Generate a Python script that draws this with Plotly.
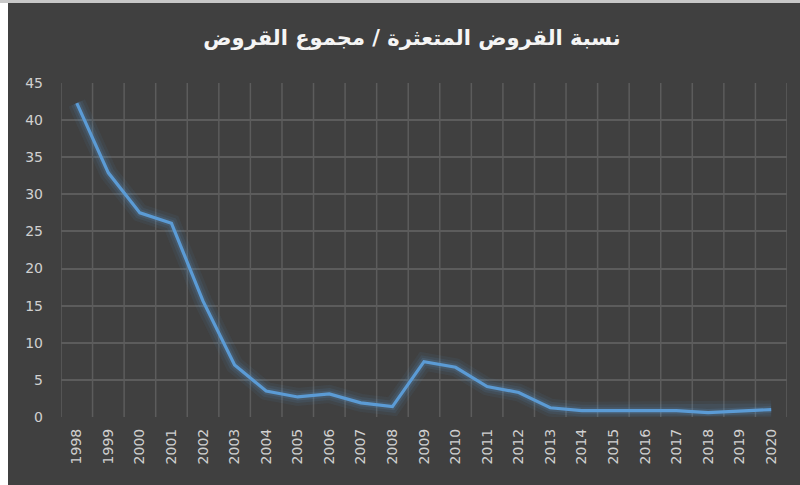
import plotly.graph_objects as go

# Ratio of non-performing loans to total loans (%)
years = [str(y) for y in range(1998, 2021)]
ratio = [42.3, 32.9, 27.5, 26.1, 15.6, 7.0, 3.5, 2.7, 3.1, 1.9, 1.4,
         7.45, 6.7, 4.1, 3.3, 1.25, 0.85, 0.85, 0.85, 0.85, 0.6, 0.8, 1.0]
y_ticks = [0, 5, 10, 15, 20, 25, 30, 35, 40, 45]
title_text = "نسبة القروض المتعثرة / مجموع القروض"

W, H = 800, 485
ML, MR, MT, MB = 61, 13, 83, 68
plot_w = W - ML - MR
plot_h = H - MT - MB

fig = go.Figure()

# soft glow under the main line
for width, alpha in [(18, 0.07), (12, 0.10), (7, 0.16)]:
    fig.add_trace(go.Scatter(
        x=years, y=ratio, mode="lines",
        line=dict(color=f"rgba(91,155,213,{alpha})", width=width),
        hoverinfo="skip", showlegend=False))

fig.add_trace(go.Scatter(
    x=years, y=ratio, mode="lines",
    line=dict(color="#5b9bd5", width=3.2),
    showlegend=False))

# light frame strips at the left and top edges of the page
fig.add_shape(type="rect", xref="paper", yref="paper", layer="above",
              x0=-ML / plot_w, x1=-(ML - 8) / plot_w,
              y0=-MB / plot_h, y1=(plot_h + MT) / plot_h,
              fillcolor="white", line=dict(width=0))
fig.add_shape(type="rect", xref="paper", yref="paper", layer="above",
              x0=-ML / plot_w, x1=(plot_w + MR) / plot_w,
              y0=(plot_h + MT - 3) / plot_h, y1=(plot_h + MT) / plot_h,
              fillcolor="#c8c8c8", line=dict(width=0))

grid = "#5c5c5c"
fig.update_layout(
    width=W, height=H,
    margin=dict(l=ML, r=MR, t=MT, b=MB),
    paper_bgcolor="#404040", plot_bgcolor="#404040",
    title=dict(text=title_text, x=0.515, xanchor="center", y=0.922, yanchor="middle",
               font=dict(family="DejaVu Sans", size=21, color="#f5f5f5", weight="bold")),
    font=dict(family="DejaVu Sans", color="#d0d0d0"),
    xaxis=dict(
        type="category", categoryorder="array", categoryarray=years,
        range=[-0.5, len(years) - 0.5],
        tickangle=-90, tickfont=dict(size=14, color="#d0d0d0"),
        showgrid=False, zeroline=False, showline=False,
        ticks="", ticklabelstandoff=8,
    ),
    yaxis=dict(
        range=[0, 45], tickvals=y_ticks,
        tickfont=dict(size=14, color="#d0d0d0"),
        showgrid=True, gridcolor=grid, gridwidth=1.5,
        zeroline=False, showline=False, ticks="", ticklabelstandoff=17,
    ),
)

# vertical gridlines at category boundaries
for i in range(len(years) + 1):
    fig.add_shape(type="line", xref="x", yref="paper", layer="below",
                  x0=i - 0.5, x1=i - 0.5, y0=0, y1=1,
                  line=dict(color=grid, width=1.5))

fig.write_html("out.html")
